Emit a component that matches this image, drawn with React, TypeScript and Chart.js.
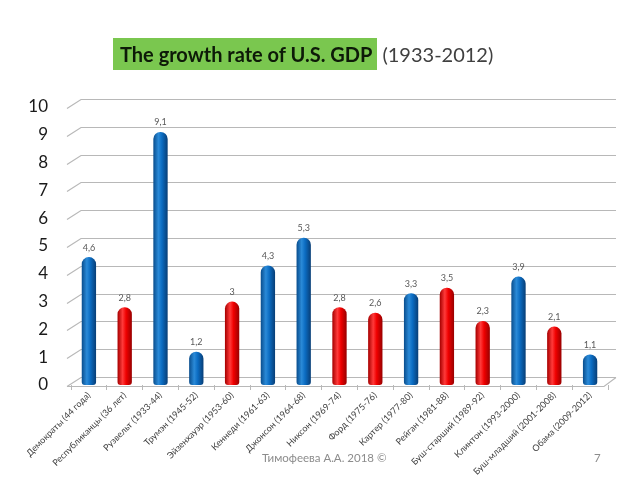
import React, { useEffect, useRef } from "react";
import { Chart, registerables } from "chart.js";

Chart.register(...registerables);

const categories: string[] = [
  "Демократы (44 года)",
  "Республиканцы (36 лет)",
  "Рузвельт (1933-44)",
  "Трумэн (1945-52)",
  "Эйзенхауэр (1953-60)",
  "Кеннеди (1961-63)",
  "Джонсон (1964-68)",
  "Никсон (1969-74)",
  "Форд (1975-76)",
  "Картер (1977-80)",
  "Рейган (1981-88)",
  "Буш-старший (1989-92)",
  "Клинтон (1993-2000)",
  "Буш-младший (2001-2008)",
  "Обама (2009-2012)",
];

const growthRates: number[] = [4.6, 2.8, 9.1, 1.2, 3, 4.3, 5.3, 2.8, 2.6, 3.3, 3.5, 2.3, 3.9, 2.1, 1.1];

// "D" = Democrat (blue), "R" = Republican (red)
const party: string[] = ["D", "R", "D", "D", "R", "D", "D", "R", "R", "D", "R", "R", "D", "R", "D"];

const yTicks: number[] = [0, 1, 2, 3, 4, 5, 6, 7, 8, 9, 10];

const FONT = "Lato, 'Open Sans', 'Liberation Sans', sans-serif";

const gridPlugin = {
  id: "grid3d",
  beforeDatasetsDraw(chart: any) {
    const { ctx, chartArea, scales } = chart;
    const y = scales.y;
    const left = chartArea.left;
    const right = chartArea.right;
    ctx.save();
    ctx.strokeStyle = "#b8b8b8";
    ctx.lineWidth = 1.2;
    yTicks.forEach((v) => {
      const py = Math.round(y.getPixelForValue(v)) + 0.5;
      ctx.beginPath();
      ctx.moveTo(left - 4, py + 1);
      ctx.lineTo(left + 10, py - 8);
      ctx.lineTo(right + 8, py - 8);
      ctx.stroke();
    });
    const p0 = Math.round(y.getPixelForValue(0)) + 0.5;
    ctx.beginPath();
    ctx.moveTo(left - 4, p0 + 1);
    ctx.lineTo(right - 4, p0 + 1);
    ctx.lineTo(right + 8, p0 - 8);
    ctx.stroke();
    ctx.restore();
  },
};

const valueLabelPlugin = {
  id: "valueLabels",
  afterDatasetsDraw(chart: any) {
    const { ctx } = chart;
    const meta = chart.getDatasetMeta(0);
    ctx.save();
    ctx.font = `9px ${FONT}`;
    ctx.fillStyle = "#595959";
    ctx.textAlign = "center";
    ctx.textBaseline = "bottom";
    meta.data.forEach((bar: any, i: number) => {
      const txt = String(growthRates[i]).replace(".", ",");
      ctx.fillText(txt, bar.x, bar.y - 5);
    });
    ctx.restore();
  },
};

function barColor(context: any) {
  const chart = context.chart;
  const i = context.dataIndex;
  const isDem = party[i] === "D";
  const base = isDem ? "#0a6cc0" : "#f00000";
  const area = chart.chartArea;
  const xs = chart.scales && chart.scales.x;
  if (!area || !xs) return base;
  const cx = xs.getPixelForValue(i);
  const half = 7;
  const g = chart.ctx.createLinearGradient(cx - half, 0, cx + half, 0);
  if (isDem) {
    g.addColorStop(0, "#0a4f8f");
    g.addColorStop(0.35, "#2a8ad8");
    g.addColorStop(0.6, "#0b6cc2");
    g.addColorStop(1, "#083f78");
  } else {
    g.addColorStop(0, "#a80000");
    g.addColorStop(0.35, "#ff3a3a");
    g.addColorStop(0.6, "#f00000");
    g.addColorStop(1, "#9a0000");
  }
  return g;
}

export default function App() {
  const canvasRef = useRef<HTMLCanvasElement | null>(null);

  useEffect(() => {
    if (!canvasRef.current) return;
    const chart = new Chart(canvasRef.current, {
      type: "bar",
      data: {
        labels: categories,
        datasets: [
          {
            data: growthRates,
            backgroundColor: barColor,
            borderWidth: 0,
            borderRadius: { topLeft: 7, topRight: 7, bottomLeft: 3, bottomRight: 3 },
            borderSkipped: false,
            barPercentage: 0.4,
            categoryPercentage: 1,
          },
        ],
      },
      options: {
        animation: false,
        responsive: true,
        maintainAspectRatio: false,
        layout: { padding: { top: 107, right: 32, left: 0, bottom: 0 } },
        plugins: {
          legend: { display: false },
          tooltip: { enabled: false },
          title: { display: false },
        },
        scales: {
          x: {
            grid: {
              display: true,
              drawOnChartArea: false,
              drawTicks: true,
              tickLength: 5,
              color: "#b8b8b8",
              offset: true,
            },
            border: { display: false },
            ticks: {
              autoSkip: false,
              maxRotation: 45,
              minRotation: 45,
              padding: 0,
              color: "#404040",
              font: { size: 9, family: FONT },
            },
            afterFit(scale: any) {
              scale.height = 95;
            },
          },
          y: {
            min: 0,
            max: 10,
            grid: { display: false, drawTicks: false },
            border: { display: false },
            ticks: {
              stepSize: 1,
              padding: 23,
              color: "#1a1a1a",
              font: { size: 17, family: FONT },
            },
            afterFit(scale: any) {
              scale.width = 71;
            },
          },
        },
      },
      plugins: [gridPlugin, valueLabelPlugin],
    });
    return () => chart.destroy();
  }, []);

  return (
    <div style={{ position: "absolute", left: 0, top: 0, width: 640, height: 480, background: "#fff", fontFamily: FONT }}>
      <canvas ref={canvasRef} />
      <div
        style={{
          position: "absolute",
          left: 113,
          top: 38,
          width: 264,
          height: 32,
          background: "#7ac74f",
        }}
      />
      <div
        style={{
          position: "absolute",
          left: 120,
          top: 40,
          height: 28,
          lineHeight: "28px",
          fontSize: 20,
          whiteSpace: "nowrap",
        }}
      >
        <span style={{ fontWeight: "bold", color: "#0d1a08" }}>The growth rate of U.S. GDP</span>
        <span style={{ color: "#404040", marginLeft: 10 }}>(1933-2012)</span>
      </div>
      <div
        style={{
          position: "absolute",
          left: 262,
          top: 451,
          fontSize: 11.5,
          color: "#8c8c8c",
          whiteSpace: "nowrap",
        }}
      >
        Тимофеева А.А. 2018 ©
      </div>
      <div
        style={{
          position: "absolute",
          left: 594,
          top: 451,
          fontSize: 11.5,
          color: "#8c8c8c",
        }}
      >
        7
      </div>
    </div>
  );
}
